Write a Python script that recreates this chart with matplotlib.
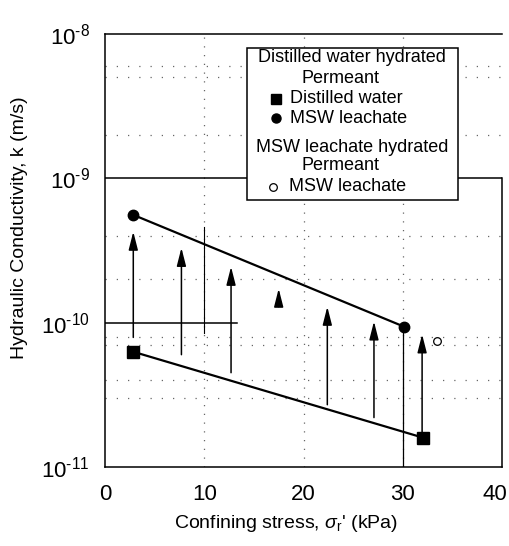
import matplotlib
matplotlib.use('Agg')
import matplotlib.pyplot as plt
from matplotlib import ticker
from matplotlib.patches import Rectangle
from matplotlib.transforms import ScaledTranslation

plt.rcParams['font.family'] = ['Liberation Sans', 'DejaVu Sans']
plt.rcParams['mathtext.fontset'] = 'custom'
plt.rcParams['mathtext.rm'] = 'Liberation Sans'
plt.rcParams['mathtext.it'] = 'Liberation Sans:italic'

# distilled water hydrated, permeant distilled water (squares)
dw_x = [2.8, 32.0]
dw_k = [6.3e-11, 1.6e-11]
# distilled water hydrated, permeant MSW leachate (filled circles)
msw_x = [2.8, 30.1]
msw_k = [5.6e-10, 9.4e-11]
# MSW leachate hydrated, permeant MSW leachate (open circle)
mswh_x = [33.5]
mswh_k = [7.5e-11]

# vertical arrows
arrow_x = [2.85, 7.7, 12.7, 17.5, 22.4, 27.1, 31.95]
arrow_from = [7.9e-11, 6.0e-11, 4.5e-11, 1.29e-10, 2.7e-11, 2.2e-11, 1.68e-11]
arrow_to = [4.27e-10, 3.3e-10, 2.44e-10, 1.72e-10, 1.29e-10, 1.02e-10, 8.3e-11]

x_ticks = [0, 10, 20, 30, 40]
y_ticks = [1e-11, 1e-10, 1e-9, 1e-8]
y_labels = [r'$\mathregular{10^{\text{-}11}}$', r'$\mathregular{10^{\text{-}10}}$',
            r'$\mathregular{10^{\text{-}9}}$', r'$\mathregular{10^{\text{-}8}}$']

grid_k = [6e-9, 5e-9, 2e-9, 4e-10, 2e-10, 8e-11, 7e-11, 4e-11, 3e-11]
grid_x = [10, 20, 30]

fig = plt.figure(figsize=(5.1, 5.46), dpi=100)
ax = fig.add_axes([105/510, 79/546, 397/510, 433/546])
ax.set_yscale('log')
ax.set_xlim(0, 40)
ax.set_ylim(1e-11, 1e-8)

# sparse dotted grid
for k in grid_k:
    ax.axhline(k, color='0.4', lw=0.9, ls=(0, (1, 8)), zorder=1)
for gx in grid_x:
    ax.axvline(gx, color='0.4', lw=0.9, ls=(0, (1, 6)), zorder=1)

# solid reference lines
ax.axhline(1e-9, color='black', lw=1.1, zorder=2)
ax.plot([0, 13.3], [1e-10, 1e-10], color='black', lw=1.1, zorder=2)
ax.plot([30.0, 30.0], [1e-11, 9.4e-11], color='black', lw=0.9, zorder=2)
ax.plot([10.0, 10.0], [4.6e-10, 8.5e-11], color='black', lw=0.8, zorder=2)

ax.plot(dw_x, dw_k, color='black', lw=1.6, zorder=3)
ax.plot(msw_x, msw_k, color='black', lw=1.6, zorder=3)
ax.plot(dw_x, dw_k, ls='none', marker='s', ms=8, color='black', zorder=4)
ax.plot(msw_x, msw_k, ls='none', marker='o', ms=7.5, color='black', zorder=4)
ax.plot(mswh_x, mswh_k, ls='none', marker='o', ms=5.5, mfc='white',
        mec='black', mew=0.9, zorder=4)

for xa, k0, k1 in zip(arrow_x, arrow_from, arrow_to):
    ax.annotate('', xy=(xa, k1), xytext=(xa, k0),
                arrowprops=dict(arrowstyle='-|>,head_length=0.55,head_width=0.14',
                                color='black', lw=1.1, shrinkA=0, shrinkB=0,
                                mutation_scale=20), zorder=3)

ax.set_xticks(x_ticks)
ax.set_yticks(y_ticks)
ax.yaxis.set_major_formatter(ticker.FixedFormatter(y_labels))
ax.yaxis.set_minor_locator(ticker.NullLocator())
ax.tick_params(length=0, labelsize=16)
ax.tick_params(axis='x', pad=12)
ax.tick_params(axis='y', pad=11)

# last x label sits against the figure edge in the original
fig.canvas.draw()
lbl = ax.get_xticklabels()[-1]
lbl.set_transform(lbl.get_transform() + ScaledTranslation(-7/100, 0, fig.dpi_scale_trans))

for s in ax.spines.values():
    s.set_linewidth(1.1)
ax.spines['right'].set_bounds(1e-11, 1e-9)

# legend box drawn by hand
ax.add_patch(Rectangle((0.358, 0.617), 0.531, 0.351, transform=ax.transAxes,
                       facecolor='white', edgecolor='black', lw=1.1, zorder=5))
fs = 13
ax.text(0.622, 0.945, 'Distilled water hydrated', transform=ax.transAxes,
        ha='center', va='center', fontsize=fs, zorder=6)
ax.text(0.592, 0.898, 'Permeant', transform=ax.transAxes,
        ha='center', va='center', fontsize=fs, zorder=6)
ax.plot([0.431], [0.850], transform=ax.transAxes, marker='s', ms=6.5,
        color='black', ls='none', zorder=6)
ax.text(0.466, 0.850, 'Distilled water', transform=ax.transAxes,
        ha='left', va='center', fontsize=fs, zorder=6)
ax.plot([0.431], [0.806], transform=ax.transAxes, marker='o', ms=6.5,
        color='black', ls='none', zorder=6)
ax.text(0.466, 0.806, 'MSW leachate', transform=ax.transAxes,
        ha='left', va='center', fontsize=fs, zorder=6)
ax.text(0.622, 0.739, 'MSW leachate hydrated', transform=ax.transAxes,
        ha='center', va='center', fontsize=fs, zorder=6)
ax.text(0.592, 0.697, 'Permeant', transform=ax.transAxes,
        ha='center', va='center', fontsize=fs, zorder=6)
ax.plot([0.423], [0.647], transform=ax.transAxes, marker='o', ms=5.5,
        mfc='white', mec='black', mew=0.9, ls='none', zorder=6)
ax.text(0.463, 0.647, 'MSW leachate', transform=ax.transAxes,
        ha='left', va='center', fontsize=fs, zorder=6)

fig.text(286/510, 1 - 523/546, r"Confining stress, $\sigma_{\rm r}$' (kPa)",
         ha='center', va='center', fontsize=14)
fig.text(20/510, 1 - 228/546, 'Hydraulic Conductivity, k (m/s)',
         ha='center', va='center', rotation=90, fontsize=14)

fig.savefig('out.png', dpi=100)
